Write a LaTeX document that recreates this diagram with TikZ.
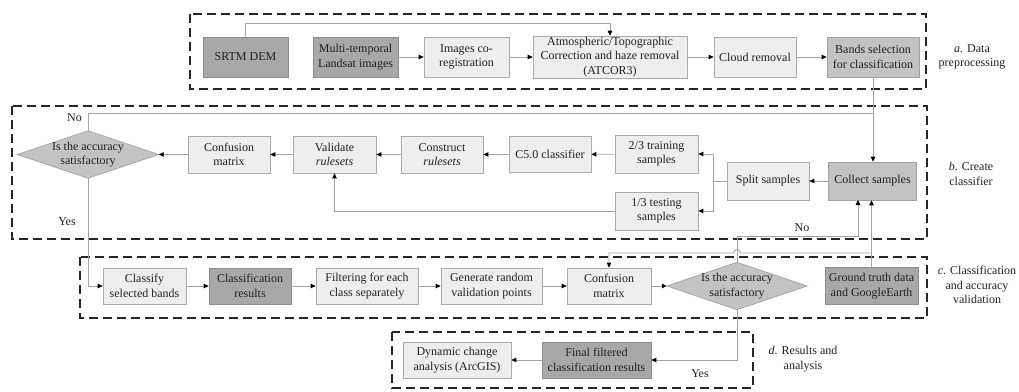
\documentclass[tikz,border=0pt]{standalone}
\usepackage{fontspec}
\setmainfont{Liberation Serif}
\usetikzlibrary{arrows.meta,backgrounds}
\definecolor{lfill}{HTML}{EEEEEE}
\definecolor{lborder}{HTML}{ABABAB}
\definecolor{mfill}{HTML}{C3C3C3}
\definecolor{mborder}{HTML}{A2A2A2}
\definecolor{dfill}{HTML}{A8A8A8}
\definecolor{dborder}{HTML}{8E8E8E}
\definecolor{linegray}{HTML}{A4A4A4}
\definecolor{txt}{HTML}{222222}
\tikzset{
  conn/.style={draw=linegray, line width=0.9pt, -{Triangle[length=5pt,width=4.5pt,color=black]}},
  plain/.style={draw=linegray, line width=0.9pt},
  frame/.style={draw=black!85, line width=1.3pt, dash pattern=on 9pt off 5pt},
  bx/.style 2 args={rectangle, line width=0.7pt, inner sep=1pt, align=center, minimum width=#1, minimum height=#2},
  lbox/.style 2 args={bx={#1}{#2}, draw=lborder, fill=lfill},
  mbox/.style 2 args={bx={#1}{#2}, draw=mborder, fill=mfill},
  dbox/.style 2 args={bx={#1}{#2}, draw=dborder, fill=dfill},
  dtext/.style={rectangle, inner sep=0pt, align=center, minimum width=#1, minimum height=47},
  dshape/.style={draw=mborder, fill=mfill, line width=0.7pt},
  lab/.style={align=center},
}
\begin{document}
\begin{tikzpicture}[x=1pt,y=-1pt,every node/.style={font=\fontsize{12}{14.5}\selectfont, text=txt}]
\useasboundingbox (0,0) rectangle (1019,391);

% frames
\draw[frame] (190,14) rectangle (926,89);
\draw[frame] (12,106) rectangle (927,239);
\draw[frame] (80,257) rectangle (927,318);
\draw[frame] (392,332) rectangle (753,388);

% row a
\node[dbox={85}{40}] (srtm) at (245.5,57) {SRTM DEM};
\node[dbox={85}{40}] (multi) at (355.5,57) {Multi-temporal\\Landsat images};
\node[lbox={85}{40}] (coreg) at (466.5,57) {Images co-\\registration};
\node[lbox={154}{40}] (atcor) at (610,57) {Atmospheric/Topographic\\Correction and haze removal\\(ATCOR3)};
\node[lbox={82}{40}] (cloud) at (755,57) {Cloud removal};
\node[mbox={92}{40}] (bands) at (873,57) {Bands selection\\for classification};

% row b
\node[dtext=141] (dia1) at (88,154.5) {Is the accuracy\\satisfactory};
\node[lbox={82}{37}] (cm1) at (229,154.5) {Confusion\\matrix};
\node[lbox={83}{37}] (val) at (334.5,154.5) {Validate\\\textit{rulesets}};
\node[lbox={82}{37}] (cons) at (442,154.5) {Construct\\\textit{rulesets}};
\node[lbox={82}{36}] (c50) at (550,154.5) {C5.0 classifier};
\node[lbox={83}{38}] (train) at (656.5,154) {2/3 training\\samples};
\node[lbox={83}{38}] (test) at (656.5,211) {1/3 testing\\samples};
\node[lbox={82}{38}] (split) at (768,181) {Split samples};
\node[mbox={88}{38}] (collect) at (872.5,181) {Collect samples};

% row c
\node[lbox={83}{36}] (classify) at (144.5,286) {Classify\\selected bands};
\node[dbox={82}{36}] (cres) at (250,286) {Classification\\results};
\node[lbox={102}{36}] (filt) at (367,286) {Filtering for each\\class separately};
\node[lbox={101}{36}] (gen) at (491.5,286) {Generate random\\validation points};
\node[lbox={84}{36}] (cm2) at (609,286) {Confusion\\matrix};
\node[dtext=140] (dia2) at (737,286) {Is the accuracy\\satisfactory};
\node[dbox={93}{37}] (gt) at (871.5,286) {Ground truth data\\and GoogleEarth};

% row d
\node[lbox={108}{36}] (dyn) at (457,360) {Dynamic change\\analysis (ArcGIS)};
\node[dbox={109}{36}] (fin) at (596.5,360) {Final filtered\\classification results};

% diamonds
\begin{scope}[on background layer]
\draw[dshape] (dia1.north) -- (dia1.east) -- (dia1.south) -- (dia1.west) -- cycle;
\draw[dshape] (dia2.north) -- (dia2.east) -- (dia2.south) -- (dia2.west) -- cycle;
\end{scope}

% labels
\node[lab] (la) at (972,57) {\textit{a}. Data\\preprocessing};
\node[lab] (lb) at (971,174) {\textit{b}. Create\\classifier};
\node[lab] (lc) at (977,285) {\textit{c}. Classification\\and accuracy\\validation};
\node[lab] (ld) at (803,359) {\textit{d}. Results and\\analysis};
\node (no1) at (74.5,118) {No};
\node (yes1) at (67,222) {Yes};
\node (no2) at (802,228) {No};
\node (yes2) at (700,374) {Yes};

% coordinates
\coordinate (srtmup) at (245.5,23);
\coordinate (noA) at (873,113);
\coordinate (sp) at (713,181);
\coordinate (no2a) at (737,236);
\coordinate (no2b) at (858,236);
\coordinate (no2c) at (858,200);
\coordinate (hopR) at (871.5,253);
\coordinate (hopS) at (740.5,253);

% row a connectors
\draw[conn] (srtm.north) -- (srtmup) -| (atcor.north);
\draw[conn] (multi) -- (coreg);
\draw[conn] (coreg) -- (atcor);
\draw[conn] (atcor) -- (cloud);
\draw[conn] (cloud) -- (bands);
\draw[conn] (bands.south) -- (bands.south |- collect.north);

% row b connectors
\draw[conn] (collect) -- (split);
\draw[plain] (split.west) -- (sp);
\draw[conn] (sp) |- (train.east);
\draw[conn] (sp) |- (test.east);
\draw[conn] (train) -- (c50);
\draw[conn] (c50) -- (cons);
\draw[conn] (cons) -- (val);
\draw[conn] (val) -- (cm1);
\draw[conn] (cm1) -- (dia1.east);
\draw[conn] (test.west) -| (val.south);
\draw[plain] (dia1.north) |- (noA);
\draw[conn] (dia1.south) |- (classify.west);

% row c connectors
\draw[conn] (classify) -- (cres);
\draw[conn] (cres) -- (filt);
\draw[conn] (filt) -- (gen);
\draw[conn] (gen) -- (cm2);
\draw[conn] (cm2) -- (dia2.west);
\draw[conn] (dia2.north) -- (no2a) -- (no2b) -- (no2c);
\draw[conn] (gt.north) -- (gt.north |- collect.south);
\draw[conn] (hopR) -- (hopS) arc[start angle=0, end angle=-180, radius=3.5] -| (cm2.north);
\draw[conn] (dia2.south) |- (fin.east);
\draw[conn] (fin) -- (dyn);
\end{tikzpicture}
\end{document}
